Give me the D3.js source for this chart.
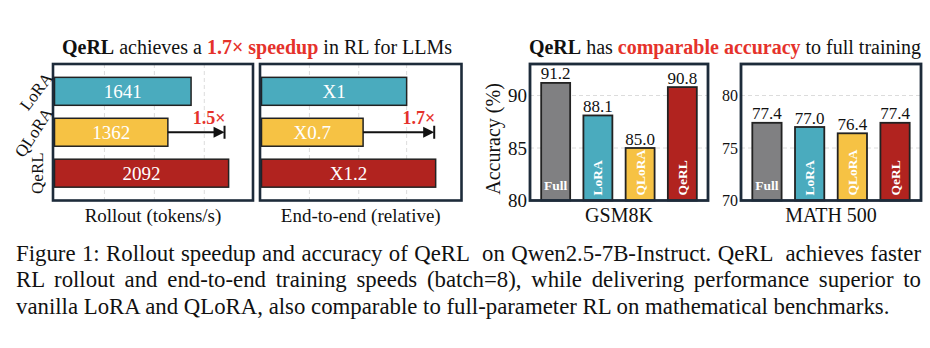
<!DOCTYPE html>
<html>
<head>
<meta charset="utf-8">
<script src="https://cdn.jsdelivr.net/npm/d3@7"></script>
<style>
  body { margin: 0; background: #fff; }
</style>
</head>
<body>
<svg id="fig" width="930" height="348"></svg>
<script>
// ---- speed (left) ----
const methods = ["LoRA", "QLoRA", "QeRL"];
const rolloutTokens = [1641, 1362, 2092];
const rolloutLabels = ["1641", "1362", "2092"];
const endToEnd = [1, 0.7, 1.2];
const endToEndLabels = ["X1", "X0.7", "X1.2"];
const rolloutSpeedup = 1.5;
const endToEndSpeedup = 1.7;
const rolloutGrid = [600, 1200, 1800];
const endToEndGrid = [0.33, 0.67, 1.0];

// ---- accuracy (right) ----
const accMethods = ["Full", "LoRA", "QLoRA", "QeRL"];
const gsm8kAcc = [91.2, 88.1, 85.0, 90.8];
const math500Acc = [77.4, 77.0, 76.4, 77.4];
const gsm8kTicks = [80, 85, 90];
const math500Ticks = [70, 75, 80];

const captionLines = [
  "Figure 1: Rollout speedup and accuracy of QeRL  on Qwen2.5-7B-Instruct. QeRL  achieves faster",
  "RL rollout and end-to-end training speeds (batch=8), while delivering performance superior to",
  "vanilla LoRA and QLoRA, also comparable to full-parameter RL on mathematical benchmarks."
];

const serif = '"Liberation Serif"';
const colors = { Full: "#808082", LoRA: "#4aabbe", QLoRA: "#f6c244", QeRL: "#b1231f" };
const frameColor = "#1d2b3a";
const barStroke = "#222";
const accent = "#e5322b";

const svg = d3.select("#fig").attr("font-family", serif);
svg.append("rect").attr("width", 930).attr("height", 348).attr("fill", "#fff");

const panelTop = 64, panelBottom = 200.5;

// ---------- titles ----------
function title(cx, parts) {
  const t = svg.append("text")
    .attr("x", cx).attr("y", 53.5)
    .attr("text-anchor", "middle")
    .attr("font-family", serif)
    .attr("font-size", 20);
  parts.forEach(p => t.append("tspan")
    .attr("font-weight", p.bold ? "bold" : null)
    .attr("fill", p.red ? accent : "#111")
    .text(p.s));
}
title(257, [
  { s: "QeRL", bold: true }, { s: " achieves a " },
  { s: "1.7× speedup", bold: true, red: true }, { s: " in RL for LLMs" }
]);
title(725, [
  { s: "QeRL", bold: true }, { s: " has " },
  { s: "comparable accuracy", bold: true, red: true }, { s: " to full training" }
]);

// ---------- horizontal speed panels ----------
function speedPanel(x0, x1, values, labels, domainMax, grid, speedup, axisTitle) {
  const x = d3.scaleLinear().domain([0, domainMax]).range([x0 + 1.5, x1]);
  const y = d3.scaleBand().domain(methods).range([panelTop, panelBottom])
    .paddingInner(0.317).paddingOuter(0.326);
  const g = svg.append("g").attr("font-family", serif);
  const rows = methods.map((m, i) => ({ m, v: values[i], label: labels[i] }));

  g.selectAll(".grid").data(grid).join("line")
    .attr("x1", d => x(d)).attr("x2", d => x(d))
    .attr("y1", panelTop).attr("y2", panelBottom)
    .attr("stroke", "#dcdcdc").attr("stroke-width", 1)
    .attr("stroke-dasharray", "4,3");

  g.selectAll(".bar").data(rows).join("rect")
    .attr("x", x(0)).attr("y", d => y(d.m))
    .attr("width", d => x(d.v) - x(0)).attr("height", y.bandwidth())
    .attr("fill", d => colors[d.m])
    .attr("stroke", barStroke).attr("stroke-width", 1.5);

  g.selectAll(".val").data(rows).join("text")
    .attr("x", d => (x(0) + x(d.v)) / 2)
    .attr("y", d => y(d.m) + y.bandwidth() / 2 + 6.5)
    .attr("text-anchor", "middle")
    .attr("fill", "#fff")
    .attr("font-family", serif)
    .attr("font-size", 19)
    .text(d => d.label);

  // speedup arrow from the QLoRA bar
  const base = values[1];
  const ay = y("QLoRA") + y.bandwidth() / 2;
  const ax0 = x(base), ax1 = x(base * speedup);
  g.append("line")
    .attr("x1", ax0).attr("x2", ax1 - 8).attr("y1", ay).attr("y2", ay)
    .attr("stroke", "#111").attr("stroke-width", 2);
  g.append("path")
    .attr("d", `M${ax1},${ay} L${ax1 - 11},${ay - 5.5} L${ax1 - 11},${ay + 5.5} Z`)
    .attr("fill", "#111");
  g.append("line")
    .attr("x1", ax1).attr("x2", ax1).attr("y1", ay - 6.5).attr("y2", ay + 6.5)
    .attr("stroke", "#111").attr("stroke-width", 2);
  g.append("text")
    .attr("x", ax1 + 1).attr("y", ay - 8.5)
    .attr("text-anchor", "end")
    .attr("fill", accent).attr("font-weight", "bold")
    .attr("font-family", serif)
    .attr("font-size", 18)
    .text(d3.format(".1f")(speedup) + "×");

  g.append("rect")
    .attr("x", x0).attr("y", panelTop)
    .attr("width", x1 - x0).attr("height", panelBottom - panelTop)
    .attr("fill", "none").attr("stroke", frameColor).attr("stroke-width", 2.6);

  g.append("text")
    .attr("x", (x0 + x1) / 2).attr("y", 222)
    .attr("text-anchor", "middle")
    .attr("fill", "#111")
    .attr("font-family", serif)
    .attr("font-size", 19)
    .text(axisTitle);
  return y;
}

const yRows = speedPanel(53, 253, rolloutTokens, rolloutLabels, 2385, rolloutGrid, rolloutSpeedup, "Rollout (tokens/s)");
speedPanel(260, 461.5, endToEnd, endToEndLabels, 1.378, endToEndGrid, endToEndSpeedup, "End-to-end (relative)");

// slanted method names on the left
const rowAngle = { LoRA: -53, QLoRA: -57, QeRL: -90 };
const rowX = { LoRA: 36, QLoRA: 33.5, QeRL: 37 };
svg.selectAll(".rowname").data(methods).join("text")
  .attr("transform", m => `translate(${rowX[m]},${yRows(m) + yRows.bandwidth() / 2}) rotate(${rowAngle[m]})`)
  .attr("text-anchor", "middle")
  .attr("dy", "0.35em")
  .attr("fill", "#111")
  .attr("font-family", serif)
  .attr("font-size", 17)
  .text(m => m);

// ---------- vertical accuracy panels ----------
function accPanel(x0, x1, values, ticks, tickSize, axisTitle) {
  const lo = ticks[0];
  const y = d3.scaleLinear().domain([lo, lo + 13]).range([panelBottom, panelTop]);
  const x = d3.scaleBand().domain(accMethods).range([x0, x1])
    .paddingInner(0.314).paddingOuter(0.265);
  const g = svg.append("g").attr("font-family", serif);
  const cols = accMethods.map((m, i) => ({ m, v: values[i] }));

  g.selectAll(".grid").data(ticks.slice(1)).join("line")
    .attr("x1", x0).attr("x2", x1)
    .attr("y1", d => y(d)).attr("y2", d => y(d))
    .attr("stroke", "#dcdcdc").attr("stroke-width", 1)
    .attr("stroke-dasharray", "4,3");

  const axis = g.append("g")
    .attr("transform", `translate(${x0 - 2},0)`)
    .call(d3.axisLeft(y).tickValues(ticks).tickSize(0).tickPadding(1));
  axis.attr("font-family", serif).attr("font-size", tickSize);
  axis.select(".domain").remove();
  axis.selectAll("text").attr("fill", "#111");

  g.selectAll(".bar").data(cols).join("rect")
    .attr("x", d => x(d.m)).attr("y", d => y(d.v))
    .attr("width", x.bandwidth()).attr("height", d => y(lo) - y(d.v))
    .attr("fill", d => colors[d.m])
    .attr("stroke", barStroke).attr("stroke-width", 1.8);

  g.selectAll(".val").data(cols).join("text")
    .attr("x", d => x(d.m) + x.bandwidth() / 2)
    .attr("y", d => y(d.v) - 3.5)
    .attr("text-anchor", "middle")
    .attr("fill", "#111")
    .attr("font-family", serif)
    .attr("font-size", 17)
    .text(d => d3.format(".1f")(d.v));

  // method names written inside the bars
  g.selectAll(".inner").data(cols).join("text")
    .attr("transform", d => d.m === "Full"
      ? `translate(${x(d.m) + x.bandwidth() / 2},${panelBottom - 11})`
      : `translate(${x(d.m) + x.bandwidth() / 2 + 4.5},${panelBottom - 5}) rotate(-90)`)
    .attr("text-anchor", d => d.m === "Full" ? "middle" : "start")
    .attr("fill", "#fff")
    .attr("font-weight", "bold")
    .attr("font-family", serif)
    .attr("font-size", 13.5)
    .text(d => d.m);

  g.append("rect")
    .attr("x", x0).attr("y", panelTop)
    .attr("width", x1 - x0).attr("height", panelBottom - panelTop)
    .attr("fill", "none").attr("stroke", frameColor).attr("stroke-width", 2.8);

  g.append("text")
    .attr("x", (x0 + x1) / 2).attr("y", 222)
    .attr("text-anchor", "middle")
    .attr("fill", "#111")
    .attr("font-family", serif)
    .attr("font-size", 20)
    .text(axisTitle);
}

accPanel(530, 708, gsm8kAcc, gsm8kTicks, 19, "GSM8K");
accPanel(741, 921, math500Acc, math500Ticks, 16, "MATH 500");

svg.append("text")
  .attr("transform", "translate(500,139) rotate(-90)")
  .attr("text-anchor", "middle")
  .attr("fill", "#111")
  .attr("font-family", serif)
  .attr("font-size", 20)
  .text("Accuracy (%)");

// ---------- caption (justified, last line ragged) ----------
const capLeft = 16, capRight = 921, capTop = 261, capStep = 26.3;
captionLines.forEach((line, i) => {
  const t = svg.append("text")
    .attr("x", capLeft).attr("y", capTop + i * capStep)
    .attr("fill", "#111")
    .attr("font-family", serif)
    .attr("font-size", 22.8)
    .style("white-space", "pre")
    .text(line);
  if (i < captionLines.length - 1) {
    const w = t.node().getComputedTextLength();
    const gaps = (line.match(/ /g) || []).length;
    t.style("word-spacing", ((capRight - capLeft - w) / gaps) + "px");
  }
});
</script>
</body>
</html>
